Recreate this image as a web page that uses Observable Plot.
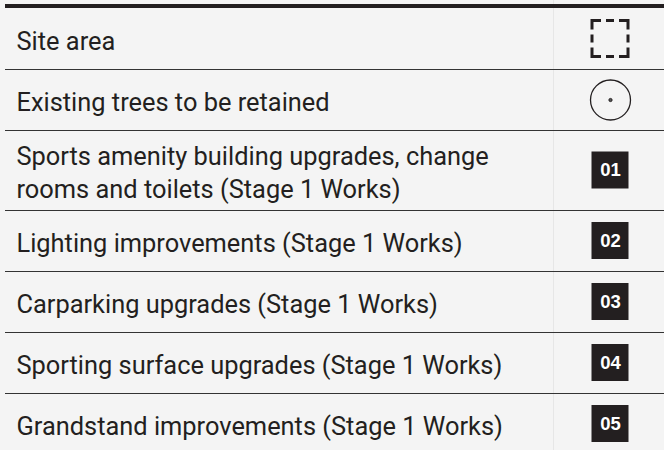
<!DOCTYPE html>
<html>
<head>
<meta charset="utf-8">
<script src="https://cdn.jsdelivr.net/npm/d3@7"></script>
<script src="https://cdn.jsdelivr.net/npm/@observablehq/plot@0.6"></script>
<style>
  html, body { margin: 0; padding: 0; background: #f4f4f4; }
  #chart svg { display: block; }
</style>
</head>
<body>
<div id="chart"></div>
<script>
// ---- data ----
const labels = [
  "Site area",
  "Existing trees to be retained",
  "Sports amenity building upgrades, change\nrooms and toilets (Stage 1 Works)",
  "Lighting improvements (Stage 1 Works)",
  "Carparking upgrades (Stage 1 Works)",
  "Sporting surface upgrades (Stage 1 Works)",
  "Grandstand improvements (Stage 1 Works)"
];
const symbols = ["dashed-square", "tree", "code", "code", "code", "code", "code"];
const codes = ["", "", "01", "02", "03", "04", "05"];
const lineCounts = [1, 1, 2, 1, 1, 1, 1];

// ---- layout ----
const W = 664, H = 450;
const top0 = 8, singleH = 61, doubleH = 80;
const textX = 16, iconX = 610, left = 5;
let y = top0;
const rows = labels.map((label, i) => {
  const h = lineCounts[i] === 2 ? doubleH : singleH;
  const r = {label, symbol: symbols[i], code: codes[i], top: y, bottom: y + h, mid: y + h / 2};
  y += h;
  return r;
});
const seps = rows.slice(0, -1).map(r => ({y: r.bottom}));
const ink = "#231f20";

const squares = rows.filter(r => r.symbol === "dashed-square");
const trees = rows.filter(r => r.symbol === "tree");
const boxes = rows.filter(r => r.symbol === "code");

const plot = Plot.plot({
  width: W, height: H,
  margin: 0,
  x: {domain: [0, W], range: [0, W], axis: null},
  y: {domain: [0, H], range: [0, H], axis: null},
  style: {background: "#f4f4f4", overflow: "visible"},
  marks: [
    // faint column divider
    Plot.ruleX([553], {y1: 0, y2: H, stroke: "#e6e6e6", strokeWidth: 1}),
    // top heavy bar
    Plot.rect([{}], {x1: left, x2: W, y1: 4, y2: 8, fill: ink}),
    // row separators
    Plot.ruleY(seps, {y: "y", x1: left, x2: W, stroke: "#333", strokeWidth: 1}),
    // labels
    Plot.text(rows, {
      x: textX, y: "mid", text: "label", textAnchor: "start",
      fontSize: 25.4, fill: ink, lineHeight: 1.3, fontFamily: "Roboto"
    }),
    // dashed square symbol
    Plot.rect(squares, {
      x1: iconX - 18, x2: iconX + 18,
      y1: d => d.mid - 18, y2: d => d.mid + 18,
      fill: "none", stroke: ink, strokeWidth: 3,
      strokeDasharray: "18,5,8,5", strokeDashoffset: 9
    }),
    // tree symbol
    Plot.dot(trees, {x: iconX, y: "mid", r: 20, stroke: ink, strokeWidth: 1.3, fill: "none"}),
    Plot.dot(trees, {x: iconX, y: "mid", r: 1.6, stroke: ink, strokeWidth: 1, fill: "#555"}),
    // numbered boxes
    Plot.rect(boxes, {
      x1: iconX - 18.5, x2: iconX + 18.5,
      y1: d => d.mid - 18.5, y2: d => d.mid + 18.5,
      fill: ink
    }),
    Plot.text(boxes, {
      x: iconX, y: "mid", text: "code", fill: "white",
      fontSize: 18.5, fontWeight: "bold", fontFamily: "Liberation Sans"
    })
  ]
});
document.getElementById("chart").appendChild(plot);
</script>
</body>
</html>
